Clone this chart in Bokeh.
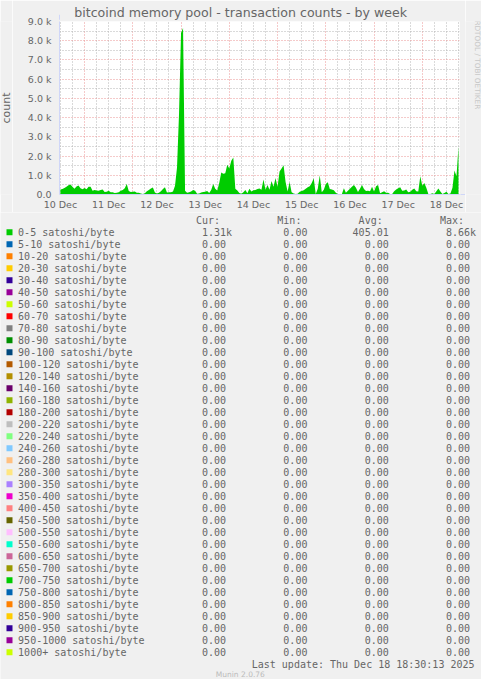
import numpy as np
from bokeh.plotting import figure
from bokeh.layouts import column, row
from bokeh.models import (ColumnDataSource, Range1d, FixedTicker, Arrow, NormalHead)
from bokeh.core.properties import value
from bokeh.embed import file_html
from bokeh.resources import INLINE

# ---------------- data ----------------
TITLE = "bitcoind memory pool - transaction counts - by week"
Y_LABEL = "count"
WATERMARK = "RRDTOOL / TOBI OETIKER"
LAST_UPDATE = "Last update: Thu Dec 18 18:30:13 2025"
VERSION = "Munin 2.0.76"

series_names = [
    "0-5 satoshi/byte", "5-10 satoshi/byte", "10-20 satoshi/byte", "20-30 satoshi/byte",
    "30-40 satoshi/byte", "40-50 satoshi/byte", "50-60 satoshi/byte", "60-70 satoshi/byte",
    "70-80 satoshi/byte", "80-90 satoshi/byte", "90-100 satoshi/byte", "100-120 satoshi/byte",
    "120-140 satoshi/byte", "140-160 satoshi/byte", "160-180 satoshi/byte", "180-200 satoshi/byte",
    "200-220 satoshi/byte", "220-240 satoshi/byte", "240-260 satoshi/byte", "260-280 satoshi/byte",
    "280-300 satoshi/byte", "300-350 satoshi/byte", "350-400 satoshi/byte", "400-450 satoshi/byte",
    "450-500 satoshi/byte", "500-550 satoshi/byte", "550-600 satoshi/byte", "600-650 satoshi/byte",
    "650-700 satoshi/byte", "700-750 satoshi/byte", "750-800 satoshi/byte", "800-850 satoshi/byte",
    "850-900 satoshi/byte", "900-950 satoshi/byte", "950-1000 satoshi/byte", "1000+ satoshi/byte",
]
series_colors = [
    "#00CC00", "#0066B3", "#FF8000", "#FFCC00", "#330099", "#990099", "#CCFF00", "#FF0000",
    "#808080", "#008F00", "#00487D", "#B35A00", "#B38F00", "#6B006B", "#8FB300", "#B30000",
    "#BEBEBE", "#80FF80", "#80C9FF", "#FFC080", "#FFE680", "#AA80FF", "#EE00CC", "#FF8080",
    "#666600", "#FFBFFF", "#00FFCC", "#CC6699", "#999900", "#00CC00", "#0066B3", "#FF8000",
    "#FFCC00", "#330099", "#990099", "#CCFF00",
]

first_sample = "2025-12-10T12:00"      # hourly samples from here
range_start = "2025-12-10T11:33"
range_end = "2025-12-18T18:30"

counts_0_5 = [
    260, 280, 340, 400, 480, 520, 400, 300, 420, 470, 330, 270, 340, 270, 400, 400,
    200, 240, 210, 190, 230, 260, 130, 140, 190, 120, 120, 80, 90, 120, 200, 240,
    320, 550, 180, 130, 140, 160, 90, 90, 50, 20, 60, 170, 230, 310, 360, 100,
    50, 90, 170, 280, 380, 110, 120, 120, 160, 450, 1400, 4200, 8400, 8660, 200, 90,
    120, 160, 240, 190, 40, 50, 100, 130, 140, 180, 80, 240, 540, 300, 210, 600,
    1140, 1080, 1100, 1550, 1350, 1750, 1930, 300, 210, 80, 40, 120, 240, 70, 300, 150,
    220, 240, 280, 310, 250, 780, 250, 500, 250, 700, 400, 860, 400, 1200, 1350, 1520,
    650, 150, 650, 120, 50, 30, 40, 140, 180, 220, 300, 380, 430, 600, 850, 30,
    300, 1000, 120, 250, 550, 640, 280, 260, 220, 90, 20, 20, 20, 330, 90, 200,
    300, 400, 500, 350, 130, 300, 500, 280, 180, 200, 170, 400, 150, 430, 500, 60,
    120, 170, 90, 90, 30, 30, 170, 260, 330, 380, 200, 210, 260, 120, 140, 250,
    310, 170, 150, 950, 450, 600, 350, 30, 30, 60, 30, 170, 310, 150, 30, 80,
    140, 30, 50, 350, 1250, 950, 2500,
]

stat_headers = ["Cur:", "Min:", "Avg:", "Max:"]
cur_vals = [1310] + [0] * 35
min_vals = [0] * 36
avg_vals = [405.01] + [0] * 35
max_vals = [8660] + [0] * 35

day_labels = ["10 Dec", "11 Dec", "12 Dec", "13 Dec", "14 Dec", "15 Dec", "16 Dec", "17 Dec", "18 Dec"]
y_tick_values = [0, 1000, 2000, 3000, 4000, 5000, 6000, 7000, 8000, 9000]
y_tick_labels = ["0.0", "1.0 k", "2.0 k", "3.0 k", "4.0 k", "5.0 k", "6.0 k", "7.0 k", "8.0 k", "9.0 k"]

# ---------------- helpers ----------------
def to_ms(dt64):
    return np.asarray(dt64).astype("datetime64[ms]").astype(np.int64).astype(float)

HOUR = np.timedelta64(1, "h")
n = len(counts_0_5)
t_ms = to_ms(np.datetime64(first_sample) + np.arange(n) * HOUR)
x0 = float(to_ms(np.datetime64(range_start)))
x1 = float(to_ms(np.datetime64(range_end)))

day0 = np.datetime64("2025-12-10T00:00")
noon_ticks = [float(v) for v in to_ms(day0 + np.arange(len(day_labels)) * 24 * HOUR + 12 * HOUR)]
midnights = [float(v) for v in to_ms(day0 + np.arange(1, len(day_labels)) * 24 * HOUR)]
six_hours = [float(v) for v in to_ms(day0 + np.arange(0, 24 * len(day_labels) + 1, 6) * HOUR)
             if float(v) not in midnights]

FONT = "DejaVu Sans"
MONO = "DejaVu Sans Mono"
FONT_COLOR = "#666666"
AXIS_COLOR = "#CFD6F8"
BACK = "#F0F0F0"

W, H = 481, 679
CH = 212            # chart row height
LW = 12             # left strip (axis title) width
WMW = 16            # right strip (watermark) width
PW = W - LW - WMW   # chart figure width
FL, FT, FW, FH = 59 - LW, 21, 400, 175
FB = FT + FH

# ---------------- chart ----------------
p = figure(width=PW, height=CH, x_axis_type="datetime",
           x_range=Range1d(x0, x1), y_range=Range1d(0, 9000),
           output_backend="svg", toolbar_location=None,
           min_border_left=FL, min_border_right=PW - FL - FW,
           min_border_top=FT, min_border_bottom=CH - FB,
           background_fill_color="white", border_fill_color=BACK,
           outline_line_color=None)

p.title.text = TITLE
p.title.align = "left"
p.title.offset = 14.7
p.title.standoff = 3
p.title.text_font = FONT
p.title.text_font_size = "12.6px"
p.title.text_font_style = "normal"
p.title.text_color = FONT_COLOR

src = {"t": t_ms}
keys = []
for i, name in enumerate(series_names):
    k = "s%d" % i
    keys.append(k)
    src[k] = counts_0_5 if i == 0 else [0] * n
source = ColumnDataSource(src)
p.varea_stack(stackers=keys, x="t", color=series_colors, source=source)

p.yaxis.ticker = FixedTicker(ticks=y_tick_values)
p.yaxis.major_label_overrides = {v: s for v, s in zip(y_tick_values, y_tick_labels)}
p.xaxis.ticker = FixedTicker(ticks=noon_ticks)
p.xaxis.major_label_overrides = {v: s for v, s in zip(noon_ticks, day_labels)}
for ax in (p.xaxis[0], p.yaxis[0]):
    ax.axis_line_color = AXIS_COLOR
    ax.major_tick_line_color = None
    ax.minor_tick_line_color = None
    ax.major_tick_out = 0
    ax.major_tick_in = 0
    ax.major_label_text_font = FONT
    ax.major_label_text_font_size = "9.5px"
    ax.major_label_text_color = FONT_COLOR
p.yaxis.major_label_standoff = 8
p.xaxis.major_label_standoff = 4

p.xgrid.ticker = FixedTicker(ticks=midnights, minor_ticks=six_hours)
p.ygrid.ticker = FixedTicker(ticks=y_tick_values[1:],
                             minor_ticks=[v + 500 for v in y_tick_values[:-1]])
for g in (p.xgrid[0], p.ygrid[0]):
    g.grid_line_color = "#EB9595"
    g.grid_line_dash = "1 2"
    g.grid_line_width = 1
    g.minor_grid_line_color = "#B4B4B4"
    g.minor_grid_line_dash = "1 2"
    g.minor_grid_line_width = 1
    g.level = "underlay"

p.add_layout(Arrow(end=NormalHead(size=5, fill_color=AXIS_COLOR, line_color=AXIS_COLOR),
                   x_start=x0, y_start=9000, x_end=x0, y_end=9350,
                   line_color=AXIS_COLOR, line_width=1))
p.add_layout(Arrow(end=NormalHead(size=5, fill_color=AXIS_COLOR, line_color=AXIS_COLOR),
                   x_start=x1, y_start=0, x_end=x1 + 3 * 3600e3, y_end=0,
                   line_color=AXIS_COLOR, line_width=1))

# ---------------- side strips ----------------
def blank(width, height):
    f = figure(width=width, height=height, x_range=Range1d(0, width), y_range=Range1d(height, 0),
               output_backend="svg", toolbar_location=None, min_border=0,
               x_axis_location=None, y_axis_location=None,
               background_fill_color=BACK, border_fill_color=BACK, outline_line_color=None)
    f.grid.visible = False
    return f

pc = blank(LW, CH)
pc.text(x=[5.5], y=[106.0], text=[Y_LABEL], angle=np.pi / 2,
        text_font=value(FONT), text_font_size="11px", text_color=FONT_COLOR,
        text_align="center", text_baseline="middle")

pw = blank(WMW, CH)
pw.text(x=[12.0], y=[50.0], text=[WATERMARK], angle=-np.pi / 2,
        text_font=value(FONT), text_font_size="7.3px", text_color="#C8C8C8",
        text_align="center", text_baseline="middle")

# ---------------- legend / stats ----------------
LH = H - CH
pl = blank(W, LH)
ROW0, ROWH = 231.7 - CH, 12.0
CWID = 6.02
COLS = [189.5, 270.8, 352.1, 433.4]
row_y = [ROW0 + ROWH * i for i in range(len(series_names))]

pl.scatter(x=[9.0] * len(series_names), y=row_y, marker="square", size=6,
           fill_color=series_colors, line_color=None)
pl.text(x=[17.6] * len(series_names), y=row_y, text=series_names,
        text_font=value(MONO), text_font_size="10px", text_color=FONT_COLOR,
        text_align="left", text_baseline="middle")
pl.text(x=[c + CWID for c in COLS], y=[ROW0 - ROWH] * 4, text=stat_headers,
        text_font=value(MONO), text_font_size="10px", text_color=FONT_COLOR,
        text_align="left", text_baseline="middle")

def fmt(v):
    return "%.2fk" % (v / 1000.0) if v >= 1000 else "%.2f" % v

sx, sy, st = [], [], []
for c, vals in enumerate((cur_vals, min_vals, avg_vals, max_vals)):
    for i, v in enumerate(vals):
        s = fmt(v)
        sx.append(COLS[c] + 6 * CWID + (CWID if s.endswith("k") else 0))
        sy.append(row_y[i])
        st.append(s)
pl.text(x=sx, y=sy, text=st, text_font=value(MONO), text_font_size="10px",
        text_color=FONT_COLOR, text_align="right", text_baseline="middle")

pl.text(x=[474], y=[ROW0 + ROWH * len(series_names)], text=[LAST_UPDATE],
        text_font=value(MONO), text_font_size="10px", text_color=FONT_COLOR,
        text_align="right", text_baseline="middle")
pl.text(x=[239.8], y=[673.5 - CH], text=[VERSION],
        text_font=value(FONT), text_font_size="7.5px", text_color="#BBBBBB",
        text_align="center", text_baseline="middle")

layout = column(row(pc, p, pw), pl)
open("out.html", "w").write(file_html(layout, INLINE))
